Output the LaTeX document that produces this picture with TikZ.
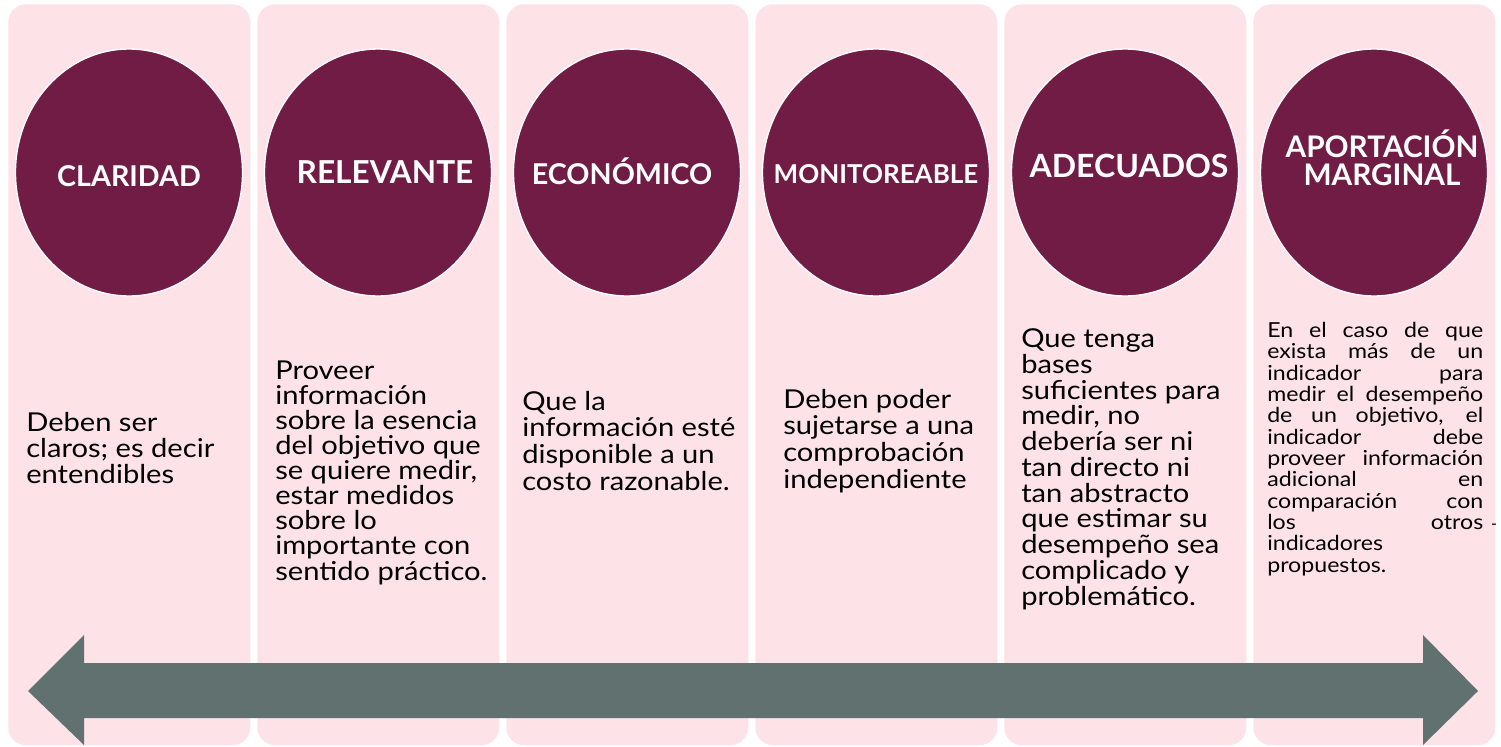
\documentclass[tikz,border=0pt]{standalone}
\usepackage{fontspec}
\setmainfont{Lato}
\newfontfamily\bodyfont[FakeStretch=1.12]{Lato}
\usetikzlibrary{shapes.geometric}
\definecolor{boxpink}{HTML}{FDE2E8}
\definecolor{maroon}{HTML}{701C45}
\definecolor{arrowgray}{HTML}{617170}
\begin{document}
\begin{tikzpicture}[x=0.75pt,y=-0.75pt,
  colbox/.style={fill=boxpink, draw=none, rounded corners=13.5pt, minimum width=181.5pt, minimum height=555.75pt, anchor=north west, inner sep=0pt},
  circ/.style={ellipse, fill=maroon, draw=white, line width=1pt, minimum width=170.25pt, minimum height=185.25pt, inner sep=0pt},
  head/.style={text=white, anchor=base, inner sep=0pt},
  body/.style={anchor=base west, align=left, inner sep=0pt, text=black}
]
\useasboundingbox[fill=white] (0,0) rectangle (1501,746);
\foreach \i in {0,...,5}{
  \node[colbox] (box\i) at (8+249*\i,4) {};
  \node[circ] (c\i) at (129+249*\i,172.5) {};
}
% headings
\node[head, font=\bfseries\fontsize{21.5}{24}\selectfont] (h0) at (129,186) {CLARIDAD};
\node[head, font=\bfseries\fontsize{23.7}{24}\selectfont] (h1) at (385,183) {RELEVANTE};
\node[head, font=\bfseries\fontsize{21.5}{24}\selectfont] (h2) at (622,184) {ECONÓMICO};
\node[head, font=\bfseries\fontsize{19.5}{24}\selectfont] (h3) at (876,183) {MONITOREABLE};
\node[head, font=\bfseries\fontsize{24}{24}\selectfont] (h4) at (1129,177) {ADECUADOS};
\node[head, font=\bfseries\fontsize{22.3}{21}\selectfont, align=center] (h5) at (1382,185) {APORTACIÓN\\MARGINAL};
% body texts (anchored at the baseline of the last line)
\node[body, font=\bodyfont\fontsize{19.5}{19.5}\selectfont] (b0) at (26,483) {Deben ser\\claros; es decir\\entendibles};
\node[body, font=\bodyfont\fontsize{19.5}{18.84}\selectfont] (b1) at (275,580) {Proveer\\información\\sobre la esencia\\del objetivo que\\se quiere medir,\\estar medidos\\sobre lo\\importante con\\sentido práctico.};
\node[body, font=\bodyfont\fontsize{19.5}{20}\selectfont] (b2) at (522,490) {Que la\\información esté\\disponible a un\\costo razonable.};
\node[body, font=\bodyfont\fontsize{19.5}{20}\selectfont] (b3) at (783,488) {Deben poder\\sujetarse a una\\comprobación\\independiente};
\node[body, font=\bodyfont\fontsize{19.5}{19.3}\selectfont] (b4) at (1021,605) {Que tenga\\bases\\suficientes para\\medir, no\\debería ser ni\\tan directo ni\\tan abstracto\\que estimar su\\desempeño sea\\complicado y\\problemático.};
\node[body, font=\bodyfont\fontsize{15.5}{16}\selectfont] (b5) at (1267,572) {%
\makebox[162pt][s]{En el caso de que}\\
\makebox[162pt][s]{exista más de un}\\
\makebox[162pt][s]{indicador para}\\
\makebox[162pt][s]{medir el desempeño}\\
\makebox[162pt][s]{de un objetivo, el}\\
\makebox[162pt][s]{indicador debe}\\
\makebox[162pt][s]{proveer información}\\
\makebox[162pt][s]{adicional en}\\
\makebox[162pt][s]{comparación con}\\
\makebox[162pt][s]{los otros}\\
indicadores\\
propuestos.};
\node[inner sep=0pt, font=\fontsize{12}{12}\selectfont] (dash) at (1494,527) {-};
% double arrow
\fill[arrowgray] (28,691) -- (84,635) -- (84,663) -- (1423,663) -- (1423,635) -- (1478,691)
  -- (1423,745) -- (1423,718) -- (84,718) -- (84,745) -- cycle;
\end{tikzpicture}
\end{document}
